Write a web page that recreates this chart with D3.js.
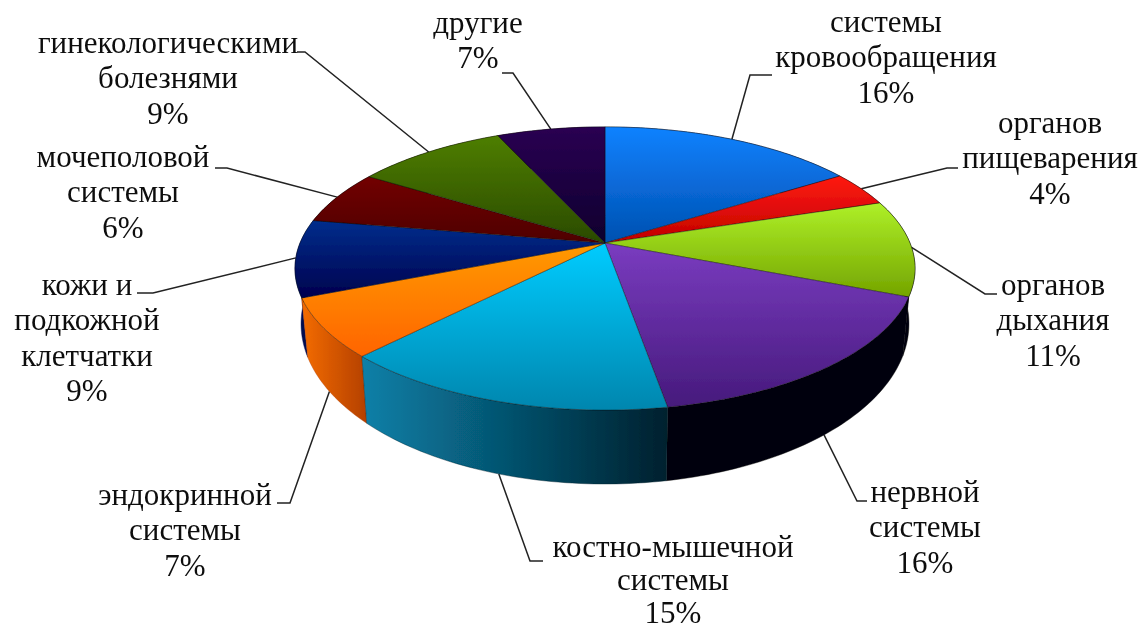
<!DOCTYPE html>
<html lang="ru">
<head>
    <meta charset="UTF-8">
    <title>Pie</title>
    <script src="https://d3js.org/d3.v7.min.js"></script>
    <style>
        html, body { margin: 0; background: #fff; }
        text { font-family: "Liberation Serif", serif; font-size: 31px; fill: #111; }
    </style>
</head>
<body>
    <svg width="1141" height="630"></svg>

    <script>
        const categories = [
            ["системы", "кровообращения"],
            ["органов", "пищеварения"],
            ["органов", "дыхания"],
            ["нервной", "системы"],
            ["костно-мышечной", "системы"],
            ["эндокринной", "системы"],
            ["кожи и", "подкожной", "клетчатки"],
            ["мочеполовой", "системы"],
            ["гинекологическими", "болезнями"],
            ["другие"]
        ];
        // printed labels
        const values = [16, 4, 11, 16, 15, 7, 9, 6, 9, 7];
        const shares = [16, 4, 11, 16.3, 14.9, 6.7, 8.8, 6.2, 9.4, 6.7];

        // [light, dark] of the top face, then [left, right] of the side wall
        const topColors = [
            ["#1082ff", "#0050b0"], ["#ff1a10", "#c00000"], ["#aef028", "#74a400"],
            ["#7a3cc0", "#461a7c"], ["#00ccff", "#0086ae"], ["#ff9a00", "#ff6400"],
            ["#002e8c", "#00004e"], ["#720000", "#4e0000"], ["#4e7e00", "#2a4a00"],
            ["#2a0052", "#0e002e"]
        ];
        const wallColors = [
            ["#002050", "#002050"], ["#600000", "#600000"], ["#000008", "#000008"],
            ["#000008", "#000008"], ["#0a80a8", "#00202e"], ["#f46c00", "#b44000"],
            ["#000a50", "#000a50"], ["#300000", "#300000"], ["#203000", "#203000"],
            ["#100020", "#100020"]
        ];

        // where each label block sits: centre x, first baseline, elbow of the leader, leader end
        const labelPos = [
            {x: 886, y: 32, ex: 750, ey: 75, tx: 772},
            {x: 1050, y: 133, ex: 947, ey: 168, tx: 958},
            {x: 1053, y: 295, ex: 985, ey: 294, tx: 997},
            {x: 925, y: 502, ex: 857, ey: 501, tx: 867, lower: true},
            {x: 673, y: 557, ex: 530, ey: 561, tx: 543, lower: true, gap: 33},
            {x: 185, y: 505, ex: 290, ey: 503, tx: 277, lower: true},
            {x: 87, y: 295, ex: 153, ey: 293, tx: 137},
            {x: 123, y: 167, ex: 227, ey: 168, tx: 215},
            {x: 168, y: 53, ex: 305, ey: 52, tx: 297},
            {x: 478, y: 33, ex: 513, ey: 73, tx: 502}
        ];

        const svg = d3.select('svg');
        const defs = svg.append('defs');
        const soft = defs.append('filter').attr('id', 'soft');
        soft.append('feGaussianBlur').attr('stdDeviation', 0.45);
        const g = svg.append('g').attr('filter', 'url(#soft)');

        // perspective disc: angle 0 at the top, clockwise. k tilts near side towards the viewer
        const topRim = {cx: 605, cy: 243, R: 305, S: 137, k: 0.18};
        const bottomRim = {cx: 605, cy: 295, R: 299, S: 155, k: 0.18};
        const project = (rim, a) => {
            const u = Math.sin(a), v = -Math.cos(a), w = 1 - rim.k * v;
            return [rim.cx + rim.R * u / w, rim.cy + rim.S * v / w];
        };
        const arcPoints = (rim, a0, a1) => {
            const n = Math.max(2, Math.ceil((a1 - a0) / 0.02));
            return d3.range(n + 1).map(i => project(rim, a0 + (a1 - a0) * i / n));
        };

        const line = d3.line();
        const slices = d3.pie().sort(null).value(d => d)(shares);

        slices.forEach((s, i) => {
            const t = defs.append('linearGradient').attr('id', 'top' + i)
                .attr('x1', 0).attr('y1', 0).attr('x2', 0).attr('y2', 1);
            t.append('stop').attr('offset', 0).attr('stop-color', topColors[i][0]);
            t.append('stop').attr('offset', 1).attr('stop-color', topColors[i][1]);
            const w = defs.append('linearGradient').attr('id', 'wall' + i)
                .attr('x1', 0).attr('y1', 0).attr('x2', 1).attr('y2', 0);
            w.append('stop').attr('offset', 0).attr('stop-color', wallColors[i][0]);
            w.append('stop').attr('offset', 1).attr('stop-color', wallColors[i][1]);
        });

        // leaders first, the pie covers their inner end
        slices.forEach((s, i) => {
            const mid = (s.startAngle + s.endAngle) / 2;
            const p = labelPos[i];
            g.append('path')
                .attr('d', line([project(p.lower ? bottomRim : topRim, mid), [p.ex, p.ey], [p.tx, p.ey]]))
                .attr('fill', 'none').attr('stroke', '#222').attr('stroke-width', 1.5);
        });

        // side walls, far ones first
        const byDepth = slices.map((s, i) => ({s, i}))
            .sort((a, b) => d3.max([-Math.cos(a.s.startAngle), -Math.cos(a.s.endAngle)])
                          - d3.max([-Math.cos(b.s.startAngle), -Math.cos(b.s.endAngle)]));
        byDepth.forEach(({s, i}) => {
            const pts = arcPoints(topRim, s.startAngle, s.endAngle)
                .concat(arcPoints(bottomRim, s.startAngle, s.endAngle).reverse());
            g.append('path').attr('d', line(pts) + 'Z')
                .attr('fill', `url(#wall${i})`)
                .attr('stroke', wallColors[i][1]).attr('stroke-width', 0.4);
        });

        // top faces
        slices.forEach((s, i) => {
            const pts = [[topRim.cx, topRim.cy]].concat(arcPoints(topRim, s.startAngle, s.endAngle));
            g.append('path').attr('d', line(pts) + 'Z')
                .attr('fill', `url(#top${i})`)
                .attr('stroke', '#111').attr('stroke-opacity', 0.6).attr('stroke-width', 0.7);
        });

        // labels
        categories.forEach((lines, i) => {
            const t = g.append('text').attr('text-anchor', 'middle');
            const gap = labelPos[i].gap || 35.3;
            lines.concat(values[i] + '%').forEach((l, j) => {
                t.append('tspan').attr('x', labelPos[i].x)
                    .attr('y', labelPos[i].y + j * gap).text(l);
            });
        });
    </script>
</body>
</html>
